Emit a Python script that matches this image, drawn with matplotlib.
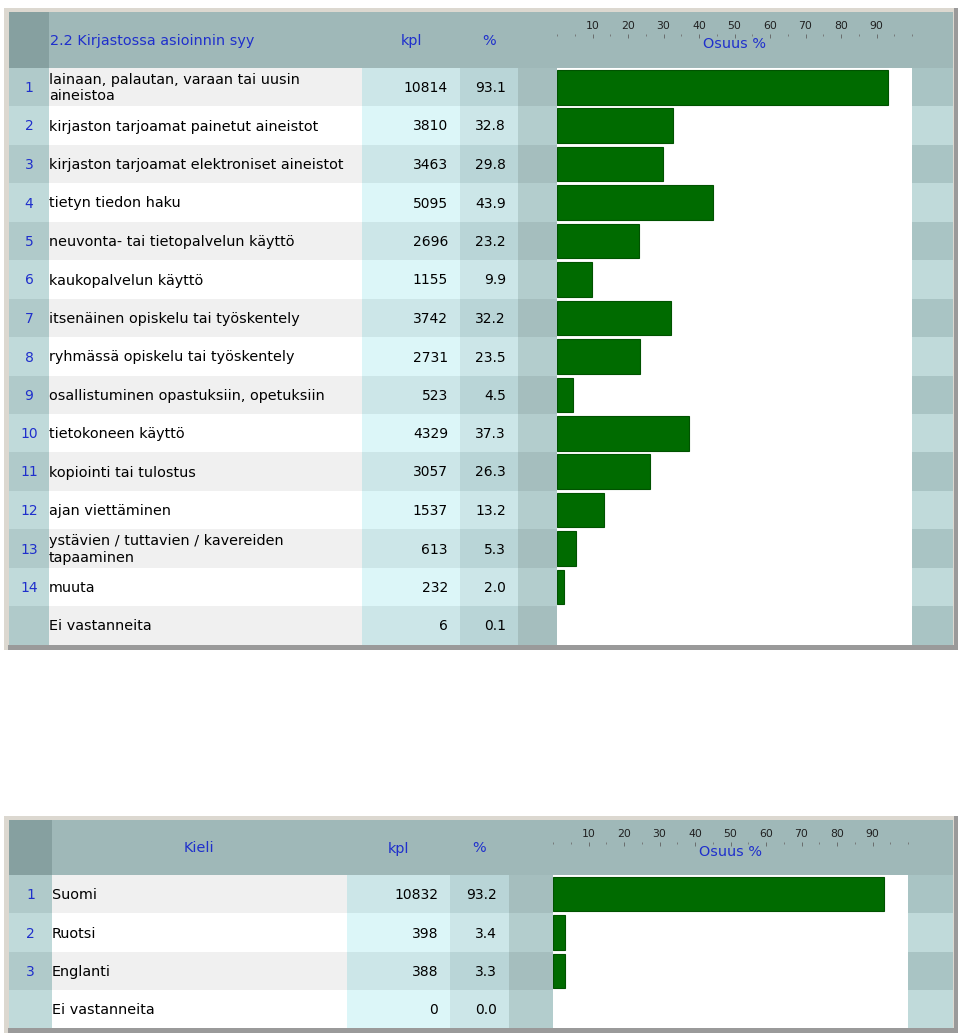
import matplotlib.pyplot as plt
from matplotlib.patches import Rectangle
from matplotlib.ticker import MultipleLocator

# taulukko 1
syyt = ['lainaan, palautan, varaan tai uusin\naineistoa',
        'kirjaston tarjoamat painetut aineistot',
        'kirjaston tarjoamat elektroniset aineistot',
        'tietyn tiedon haku',
        'neuvonta- tai tietopalvelun käyttö',
        'kaukopalvelun käyttö',
        'itsenäinen opiskelu tai työskentely',
        'ryhmässä opiskelu tai työskentely',
        'osallistuminen opastuksiin, opetuksiin',
        'tietokoneen käyttö',
        'kopiointi tai tulostus',
        'ajan viettäminen',
        'ystävien / tuttavien / kavereiden\ntapaaminen',
        'muuta',
        'Ei vastanneita']
syyt_kpl = [10814, 3810, 3463, 5095, 2696, 1155, 3742, 2731, 523, 4329, 3057, 1537, 613, 232, 6]
syyt_pct = [93.1, 32.8, 29.8, 43.9, 23.2, 9.9, 32.2, 23.5, 4.5, 37.3, 26.3, 13.2, 5.3, 2.0, 0.1]

# taulukko 2
kielet = ['Suomi', 'Ruotsi', 'Englanti', 'Ei vastanneita']
kielet_kpl = [10832, 398, 388, 0]
kielet_pct = [93.2, 3.4, 3.3, 0.0]

W, H = 960, 1036
fig = plt.figure(figsize=(9.6, 10.36), dpi=100)
ax = fig.add_axes([0, 0, 1, 1])
ax.set_xlim(0, W)
ax.set_ylim(H, 0)
ax.axis('off')

BLUE = '#1f2fcc'
GREEN = '#006b00'
FS = 10.4     # tekstit
FSN = 10.0    # luvut

odd = {'num': '#b0caca', 'lab': '#f0f0f0', 'kpl': '#cce6e8', 'pct': '#b9d5d7',
       'gap': '#a5bebe', 'right': '#a9c4c4'}
even = {'num': '#c0dada', 'lab': '#ffffff', 'kpl': '#dcf6f8', 'pct': '#cce6e8',
        'gap': '#b3cdcd', 'right': '#c0dada'}


def rect(x0, y0, x1, y1, c):
    ax.add_patch(Rectangle((x0, y0), x1 - x0, y1 - y0, facecolor=c, edgecolor='none',
                           antialiased=False))


def taulukko(labels, kpl, pct, cols, frame, hdr, row_h, otsikko, otsikko_x, otsikko_ha):
    # cols: num, lab, kpl, pct, gap, bar, right, end
    c_num, c_lab, c_kpl, c_pct, c_gap, c_bar, c_right, c_end = cols
    fy0, fy1 = frame
    hy0, hy1 = hdr
    # kehys
    rect(4, fy0 - 4, 958, fy1, '#dcd8d0')
    rect(8, fy1 - 5, 958, fy1, '#9a9a9a')
    rect(954, fy0 - 4, 958, fy1, '#9a9a9a')
    # otsikkorivi
    rect(c_num, hy0, c_end, hy1, '#9fb8b8')
    rect(c_num, hy0, c_lab, hy1, '#86a0a0')
    ym = (hy0 + hy1) / 2 + 1
    ax.text(otsikko_x, ym, otsikko, color=BLUE, fontsize=FS, ha=otsikko_ha, va='center')
    ax.text((c_kpl + c_pct) / 2, ym, 'kpl', color=BLUE, fontsize=FS, ha='center', va='center')
    ax.text((c_pct + c_gap) / 2, ym, '%', color=BLUE, fontsize=FS, ha='center', va='center')
    ax.text((c_bar + c_right) / 2, hy0 + 32, 'Osuus %', color=BLUE, fontsize=FS,
            ha='center', va='center')

    # asteikko
    rax = fig.add_axes([c_bar / W, 1 - (hy0 + 22) / H, (c_right - c_bar) / W, 0.0001])
    rax.set_xlim(0, 100)
    rax.set_facecolor('none')
    for s in rax.spines.values():
        s.set_visible(False)
    rax.yaxis.set_visible(False)
    rax.xaxis.set_ticks_position('top')
    rax.set_xticks(range(10, 100, 10))
    rax.xaxis.set_minor_locator(MultipleLocator(5))
    rax.tick_params(axis='x', which='major', direction='in', length=3, width=0.6,
                    color='#606060', labelsize=7.8, labelcolor='#202020', pad=2)
    rax.tick_params(axis='x', which='minor', direction='in', length=1.5, width=0.6,
                    color='#707070')

    n = len(labels)
    y0 = hy1
    for i in range(n):
        c = odd if i % 2 == 0 else even
        ya, yb = round(y0 + i * row_h), round(y0 + (i + 1) * row_h)
        rect(c_num, ya, c_lab, yb, c['num'])
        rect(c_lab, ya, c_kpl, yb, c['lab'])
        rect(c_kpl, ya, c_pct, yb, c['kpl'])
        rect(c_pct, ya, c_gap, yb, c['pct'])
        rect(c_gap, ya, c_bar, yb, c['gap'])
        rect(c_right, ya, c_end, yb, c['right'])
        ym = (ya + yb) / 2 + 1
        if labels[i] != 'Ei vastanneita':
            ax.text((c_num + c_lab) / 2, ym, str(i + 1), color=BLUE, fontsize=FSN,
                    ha='center', va='center')
        ax.text(c_lab, ym, labels[i], fontsize=FS, ha='left', va='center',
                linespacing=1.2)
        ax.text(c_pct - 12, ym, str(kpl[i]), fontsize=FSN, ha='right', va='center')
        ax.text(c_gap - 12, ym, f'{pct[i]:.1f}', fontsize=FSN, ha='right', va='center')

    # palkit
    bax = fig.add_axes([c_bar / W, 1 - (y0 + n * row_h) / H, (c_right - c_bar) / W,
                        n * row_h / H])
    bax.set_xlim(0, 100)
    bax.set_ylim(n - 0.5, -0.5)
    bax.set_facecolor('white')
    bars = bax.barh(range(n), pct, height=0.9, color=GREEN, edgecolor='#005200',
                    linewidth=0.8)
    for b, p in zip(bars, pct):
        if p < 0.5:
            b.set_linewidth(0)
    bax.set_xticks([])
    bax.set_yticks([])
    for s in bax.spines.values():
        s.set_visible(False)


taulukko(syyt, syyt_kpl, syyt_pct,
         [9, 49, 362, 460, 518, 557, 912, 953], (12, 650), (12, 68), 38.45,
         '2.2 Kirjastossa asioinnin syy', 50, 'left')
taulukko(kielet, kielet_kpl, kielet_pct,
         [9, 52, 347, 450, 509, 553, 908, 953], (820, 1033), (820, 875), 38.3,
         'Kieli', 199, 'center')

fig.savefig('out.png', dpi=100)
